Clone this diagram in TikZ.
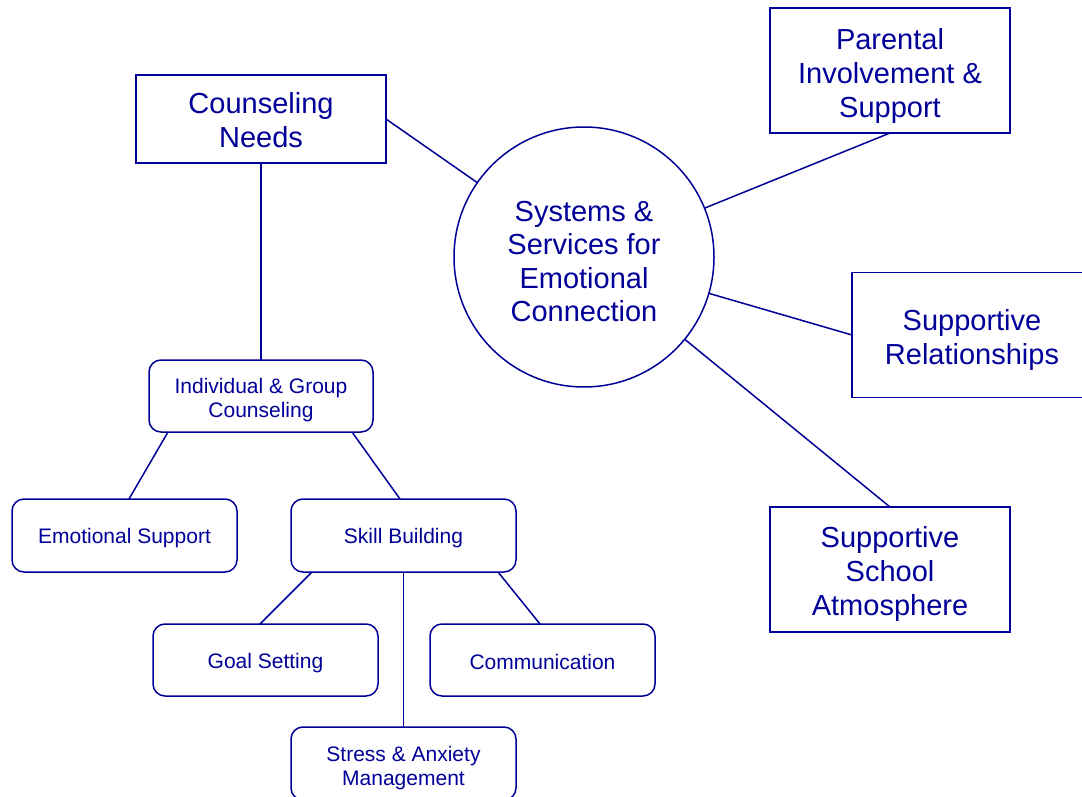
\documentclass[tikz,border=0pt]{standalone}
\usepackage{fontspec}
\setmainfont{Liberation Sans}
\definecolor{navy}{RGB}{0,0,153}
\newcommand{\lowerby}[1]{\rule{0pt}{#1}}
\begin{document}
\begin{tikzpicture}[x=1pt,y=-1pt,
  every node/.style={draw=navy,text=navy,line width=1.5pt,outer sep=0pt,inner sep=0pt,align=center},
  bigbox/.style={rectangle,font=\fontsize{29}{34}\selectfont,minimum width=240pt,minimum height=125pt},
  subbox/.style={rectangle,rounded corners=12pt,font=\fontsize{21}{24}\selectfont,minimum width=225pt,minimum height=73pt},
  hub/.style={circle,font=\fontsize{29}{33.3}\selectfont,minimum size=260pt},
  link/.style={draw=navy,line width=1.5pt}]
  \useasboundingbox (0,0) rectangle (1082,797);
  % centre and outer boxes
  \node[hub] (sys) at (584,257) {\lowerby{29.2pt}Systems \&\\Services for\\Emotional\\Connection};
  \node[bigbox,minimum width=250pt,minimum height=88pt] (needs) at (261,119) {\lowerby{23.2pt}Counseling\\Needs};
  \node[bigbox] (parent) at (890,70.5) {\lowerby{31.2pt}Parental\\Involvement \&\\Support};
  \node[bigbox] (relat) at (972,335) {\lowerby{31.2pt}Supportive\\Relationships};
  \node[bigbox] (school) at (890,569.5) {\lowerby{29.2pt}Supportive\\School\\Atmosphere};
  % counseling tree
  \node[subbox,minimum width=224pt,minimum height=72pt] (indiv) at (261,396) {\lowerby{23.3pt}Individual \& Group\\Counseling};
  \node[subbox] (emo) at (124.5,535.5) {\lowerby{21.3pt}Emotional Support};
  \node[subbox] (skill) at (403.5,535.5) {\lowerby{21.3pt}Skill Building};
  \node[subbox,minimum height=72pt] (goal) at (265.5,660) {\lowerby{21.3pt}Goal Setting};
  \node[subbox,minimum height=72pt] (comm) at (542.5,660) {\lowerby{18.5pt}Communication};
  \node[subbox] (stress) at (403.5,763.5) {\lowerby{25.3pt}Stress \& Anxiety\\Management};
  \draw[link] (needs.east) -- (sys);
  \draw[link] (parent.south) -- (sys);
  \draw[link] (relat.west) -- (sys);
  \draw[link] (school.north) -- (sys);
  \draw[link] (needs.south) -- (indiv.north);
  \draw[link] ([xshift=-93pt]indiv.south) -- ([xshift=4.5pt]emo.north);
  \draw[link] ([xshift=91pt]indiv.south) -- ([xshift=-3.5pt]skill.north);
  \draw[link] ([xshift=-91.5pt]skill.south) -- ([xshift=-5.5pt]goal.north);
  \draw[link] ([xshift=94.5pt]skill.south) -- ([xshift=-2.5pt]comm.north);
  \draw[link] (skill.south) -- (stress.north);
\end{tikzpicture}
\end{document}
